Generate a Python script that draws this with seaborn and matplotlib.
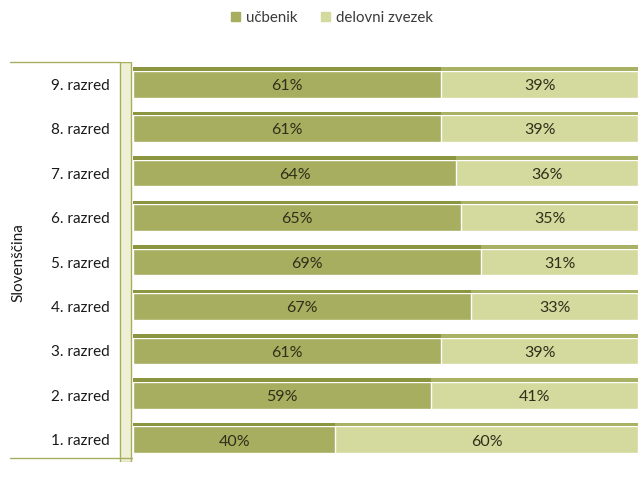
import matplotlib
matplotlib.use("Agg")
import matplotlib.pyplot as plt
from matplotlib.lines import Line2D
from matplotlib.patches import Rectangle
import seaborn as sns
import pandas as pd
import numpy as np

# Share of learning material per grade (Slovenščina)
grades = ["9. razred", "8. razred", "7. razred", "6. razred", "5. razred",
          "4. razred", "3. razred", "2. razred", "1. razred"]
ucbenik = [61, 61, 64, 65, 69, 67, 61, 59, 40]
delovni_zvezek = [39, 39, 36, 35, 31, 33, 39, 41, 60]
series_names = ["učbenik", "delovni zvezek"]
subject = "Slovenščina"

dark_front, dark_top = "#a7ae5f", "#8c9641"
light_front, light_top = "#d4d99d", "#a9b264"
text_col = "#2f2f1a"

sns.set_theme(style="white")
plt.rcParams["font.family"] = ["Lato", "DejaVu Sans"]

df = pd.DataFrame({"razred": grades, "ucbenik": ucbenik,
                   "delovni": delovni_zvezek})
df["skupaj"] = df["ucbenik"] + df["delovni"]

fig = plt.figure(figsize=(6.41, 5.01), dpi=100)
ax = fig.add_axes([118 / 641, 1 - 462 / 501, 520 / 641, 400 / 501])

# stacked bars: full length first, the first series drawn over it
sns.barplot(data=df, y="razred", x="skupaj", orient="h", color=light_front,
            width=0.6, saturation=1, edgecolor="white", linewidth=1, ax=ax)
sns.barplot(data=df, y="razred", x="ucbenik", orient="h", color=dark_front,
            width=0.6, saturation=1, edgecolor="white", linewidth=1, ax=ax)

# thin top faces give the bars a little depth
ypos = np.arange(len(grades))
ax.barh(ypos - 0.34, df["ucbenik"], height=0.08, color=dark_top,
        edgecolor="none")
ax.barh(ypos - 0.34, df["delovni"], left=df["ucbenik"], height=0.08,
        color=light_top, edgecolor="none")

for i, (u, d) in enumerate(zip(ucbenik, delovni_zvezek)):
    ax.text(u / 2, i + 0.04, f"{u}%", ha="center", va="center",
            fontsize=11.5, color=text_col)
    ax.text(u + d / 2, i + 0.04, f"{d}%", ha="center", va="center",
            fontsize=11.5, color=text_col)

ax.set_xlim(-3, 100)
ax.set_ylim(len(grades) - 0.5, -0.5)
ax.set_xlabel("")
ax.set_ylabel("")
ax.set_xticks([])
ax.tick_params(axis="y", length=0, pad=6, labelsize=11, labelcolor="#1a1a1a")
for s in ax.spines.values():
    s.set_visible(False)

# back wall on the left of the bars
ax.add_patch(Rectangle((-2.6, -0.5), 2.2, len(grades), facecolor="#eef0d6",
                       edgecolor="#a7ae5f", linewidth=1, zorder=0.5))

# bracket of the grouped category axis
fig.add_artist(Line2D([10 / 641, 120 / 641], [1 - 62 / 501, 1 - 62 / 501],
                      color="#a7ae5f", lw=1))
fig.add_artist(Line2D([10 / 641, 132 / 641], [1 - 458 / 501, 1 - 458 / 501],
                      color="#a7ae5f", lw=1))
fig.text(18 / 641, 1 - 263 / 501, subject, rotation=90, ha="center",
         va="center", fontsize=11, color="#1a1a1a")

handles = [Rectangle((0, 0), 1, 1, color=dark_front),
           Rectangle((0, 0), 1, 1, color=light_front)]
fig.legend(handles, series_names, loc="center",
           bbox_to_anchor=(332 / 641, 1 - 18 / 501),
           ncol=2, frameon=False, fontsize=10.8, handlelength=0.6,
           handleheight=0.6, handletextpad=0.4, columnspacing=1.6,
           labelcolor="#3a3a3a")

fig.savefig("out.png", dpi=100)
